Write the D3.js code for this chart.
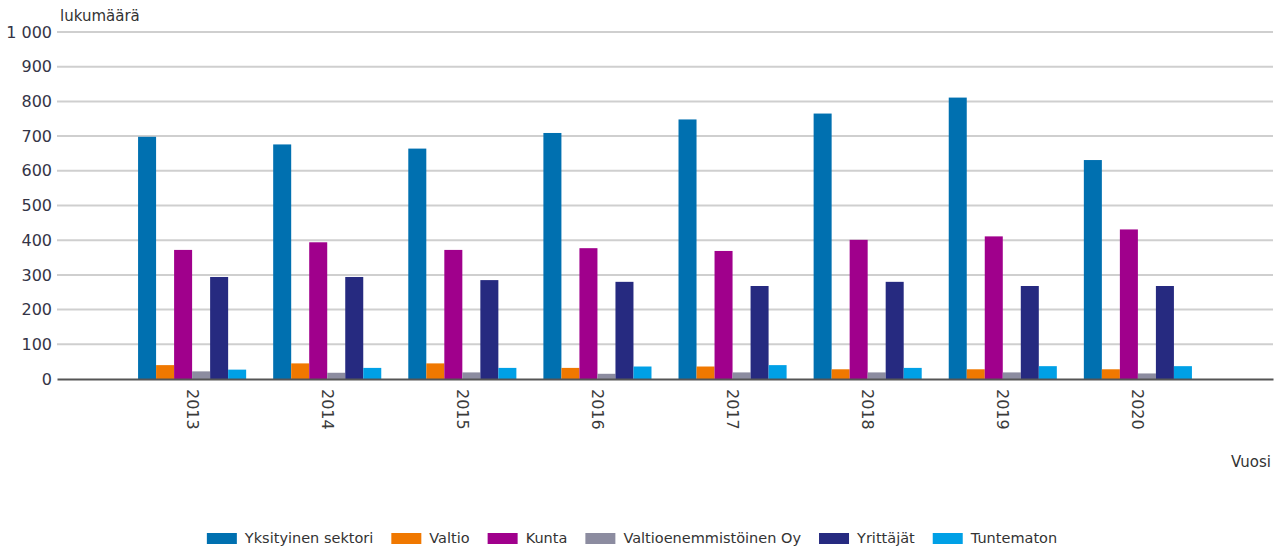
<!DOCTYPE html>
<html>
  <head>
    <script src="https://d3js.org/d3.v7.min.js"></script>
    <style>
      body { margin: 0; background: #fff; }
      text { font-family: "DejaVu Sans", Verdana, sans-serif; }
      .grid line { stroke: #cfcfcf; stroke-width: 2px; }
      .axis--y .tick text { font-size: 16px; fill: #343446; }
      .axis--x .tick text { font-size: 16px; fill: #3a3a3a; }
      .axis__label { font-size: 15px; fill: #333; }
      .legend text { font-size: 14.5px; fill: #333; }
    </style>
  </head>
  <body>
    <svg width="1277" height="547"></svg>
    <script>
      const years = ["2013", "2014", "2015", "2016", "2017", "2018", "2019", "2020"];
      const seriesNames = ["Yksityinen sektori", "Valtio", "Kunta", "Valtioenemmistöinen Oy", "Yrittäjät", "Tuntematon"];
      const seriesColors = ["#0070b0", "#f07800", "#a0008c", "#8c8ca0", "#262a80", "#00a0e6"];
      const yksityinen = [698, 676, 664, 709, 748, 765, 811, 631];
      const valtio = [40, 45, 45, 32, 36, 28, 28, 28];
      const kunta = [372, 394, 372, 377, 369, 401, 411, 431];
      const valtioOy = [22, 18, 19, 15, 19, 19, 19, 16];
      const yrittajat = [294, 294, 285, 280, 268, 280, 268, 268];
      const tuntematon = [27, 32, 32, 36, 40, 32, 37, 37];
      const yTicks = [0, 100, 200, 300, 400, 500, 600, 700, 800, 900, 1000];

      const seriesValues = [yksityinen, valtio, kunta, valtioOy, yrittajat, tuntematon];
      const table = years.map((year, i) => ({
        year,
        values: seriesNames.map((name, s) => ({ name, value: seriesValues[s][i] }))
      }));

      const svg = d3.select("svg");
      const margin = { left: 57, right: 4, top: 32, bottom: 168 };
      const width = 1277, height = 547;
      const innerWidth = width - margin.left - margin.right;
      const innerHeight = height - margin.top - margin.bottom;

      const g = svg.append("g")
        .attr("transform", `translate(${margin.left}, ${margin.top})`);

      const x0 = d3.scaleBand()
        .domain(years)
        .range([0, innerWidth])
        .paddingInner(0)
        .paddingOuter(0.5);

      const x1 = d3.scaleBand()
        .domain(seriesNames)
        .range([0, x0.bandwidth()])
        .paddingOuter(0.75);

      const y = d3.scaleLinear()
        .domain([0, 1000])
        .range([innerHeight, 0]);

      const color = d3.scaleOrdinal()
        .domain(seriesNames)
        .range(seriesColors);

      const locale = d3.formatLocale({ decimal: ",", thousands: " ", grouping: [3], currency: ["", " €"] });
      const fmt = locale.format(",d");

      // grid lines
      g.append("g")
        .attr("class", "grid")
        .selectAll("line")
        .data(yTicks.filter(d => d > 0))
        .join("line")
          .attr("x1", 0)
          .attr("x2", innerWidth)
          .attr("y1", d => y(d))
          .attr("y2", d => y(d));

      const yAxis = d3.axisLeft(y)
        .tickValues(yTicks)
        .tickSize(0)
        .tickPadding(5)
        .tickFormat(fmt);
      g.append("g")
        .attr("class", "axis axis--y")
        .call(yAxis)
        .call(s => s.select(".domain").remove());

      // bars
      g.append("g")
        .selectAll("g")
        .data(table)
        .join("g")
          .attr("transform", d => `translate(${x0(d.year)}, 0)`)
        .selectAll("rect")
        .data(d => d.values)
        .join("rect")
          .attr("x", d => x1(d.name))
          .attr("y", d => y(d.value))
          .attr("width", x1.bandwidth())
          .attr("height", d => y(0) - y(d.value))
          .attr("fill", d => color(d.name));

      const xAxis = d3.axisBottom(x0)
        .tickSize(0)
        .tickPadding(0);
      const xg = g.append("g")
        .attr("class", "axis axis--x")
        .attr("transform", `translate(0, ${innerHeight})`)
        .call(xAxis);
      xg.select(".domain")
        .attr("stroke", "#555")
        .attr("stroke-width", 2);
      xg.selectAll(".tick text")
        .attr("transform", "rotate(90)")
        .attr("x", 10)
        .attr("y", 0)
        .attr("dy", "0.35em")
        .attr("text-anchor", "start");

      svg.append("text")
        .attr("class", "axis__label")
        .attr("x", 60)
        .attr("y", 21)
        .text("lukumäärä");

      svg.append("text")
        .attr("class", "axis__label")
        .attr("x", 1271)
        .attr("y", 467)
        .attr("text-anchor", "end")
        .text("Vuosi");

      // legend
      const legend = svg.append("g").attr("class", "legend");
      const items = legend.selectAll("g")
        .data(seriesNames)
        .join("g");
      items.append("rect")
        .attr("width", 30)
        .attr("height", 11)
        .attr("y", -10)
        .attr("fill", d => color(d));
      items.append("text")
        .attr("x", 38)
        .attr("y", 0)
        .text(d => d);
      let offset = 0;
      items.each(function() {
        const w = 38 + d3.select(this).select("text").node().getComputedTextLength();
        d3.select(this).attr("transform", `translate(${offset}, 0)`);
        offset += w + 18;
      });
      const total = offset - 18;
      legend.attr("transform", `translate(${632 - total / 2}, 543)`);
    </script>
  </body>
</html>
